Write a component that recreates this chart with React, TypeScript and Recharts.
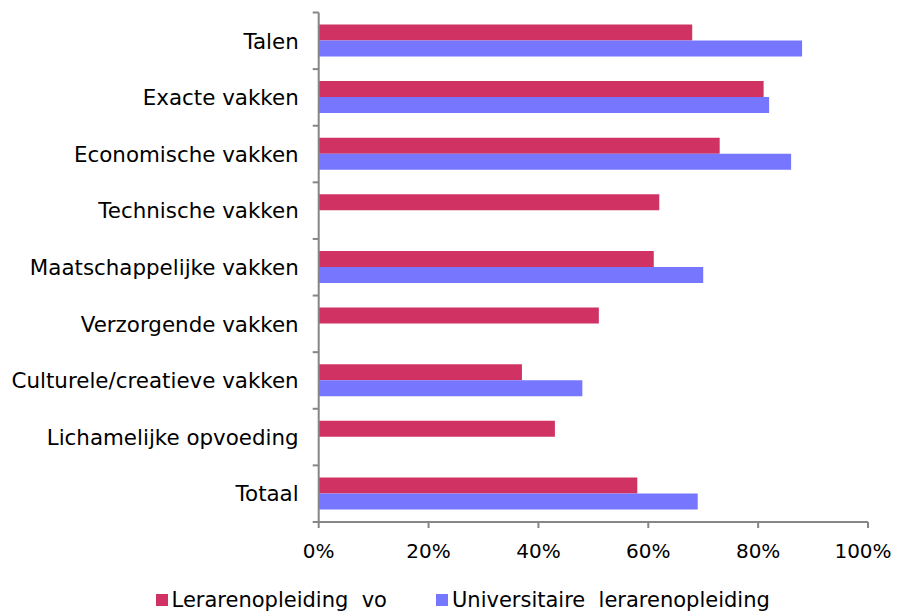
import { Bar, BarChart, Legend, XAxis, YAxis } from "recharts";

const categories = [
  "Talen",
  "Exacte vakken",
  "Economische vakken",
  "Technische vakken",
  "Maatschappelijke vakken",
  "Verzorgende vakken",
  "Culturele/creatieve vakken",
  "Lichamelijke opvoeding",
  "Totaal",
];
const lerarenopleidingVo = [68, 81, 73, 62, 61, 51, 37, 43, 58];
const universitaireLerarenopleiding = [88, 82, 86, null, 70, null, 48, null, 69];
const percentTicks = [0, 20, 40, 60, 80, 100];

const data = categories.map((name, i) => ({
  name,
  vo: lerarenopleidingVo[i],
  uni: universitaireLerarenopleiding[i],
}));

const FONT = '"DejaVu Sans", Verdana, sans-serif';
const AXIS_COLOR = "#868686";
const RED = "#d03264";
const BLUE = "#7676ff";
const TICK_SIZE = 6;
const TICK_MARGIN = 14;

function CategoryTick(props: any) {
  const { x, y, payload } = props;
  const half = payload?.offset ?? 28.3;
  const axisX = x + TICK_MARGIN + TICK_SIZE;
  const isLast = payload?.value === categories[categories.length - 1];
  return (
    <g>
      <line x1={axisX - TICK_SIZE} x2={axisX} y1={y - half} y2={y - half} stroke={AXIS_COLOR} strokeWidth={2} />
      {isLast && (
        <line x1={axisX - TICK_SIZE} x2={axisX} y1={y + half} y2={y + half} stroke={AXIS_COLOR} strokeWidth={2} />
      )}
      <text x={x} y={y} dy="0.36em" textAnchor="end" fill="#000" fontSize={21.4} fontFamily={FONT}>
        {payload.value}
      </text>
    </g>
  );
}

// the last label would run past the page edge, nudge it in a little
function PercentTick({ x, y, payload }: any) {
  const isLast = payload.value === percentTicks[percentTicks.length - 1];
  return (
    <text
      x={x}
      y={y}
      dy="0.71em"
      dx={isLast ? -5 : 0}
      textAnchor="middle"
      fill="#000"
      fontSize={20}
      fontFamily={FONT}
    >
      {`${payload.value}%`}
    </text>
  );
}

function LegendBody({ payload }: any) {
  return (
    <div
      style={{
        display: "flex",
        alignItems: "center",
        height: 24,
        paddingLeft: 147.6,
        fontFamily: FONT,
        fontSize: 21,
        color: "#000",
      }}
    >
      {(payload || []).map((item: any, i: number) => (
        <div key={item.value} style={{ display: "flex", alignItems: "center", marginRight: i === 0 ? 49 : 0 }}>
          <span style={{ width: 12, height: 12, background: item.color, marginRight: 4, display: "inline-block" }} />
          <span style={{ whiteSpace: "pre", lineHeight: "24px" }}>{item.value}</span>
        </div>
      ))}
    </div>
  );
}

export default function App() {
  return (
    <BarChart
      width={892}
      height={604}
      data={data}
      layout="vertical"
      margin={{ top: 4.5, right: 32, bottom: 16, left: 0 }}
      barSize={16}
      barGap={0}
    >
      <XAxis
        type="number"
        domain={[0, 100]}
        ticks={percentTicks}
        interval={0}
        axisLine={{ stroke: AXIS_COLOR, strokeWidth: 2 }}
        tickLine={{ stroke: AXIS_COLOR, strokeWidth: 2 }}
        tickSize={6}
        tickMargin={16}
        height={50}
        tick={<PercentTick />}
      />
      <YAxis
        type="category"
        dataKey="name"
        width={310.7}
        interval={0}
        axisLine={{ stroke: AXIS_COLOR, strokeWidth: 2 }}
        tickLine={false}
        tickSize={TICK_SIZE}
        tickMargin={TICK_MARGIN}
        tick={<CategoryTick />}
      />
      <Legend
        verticalAlign="bottom"
        content={<LegendBody />}
        wrapperStyle={{ bottom: 0, left: 0, width: 892 }}
      />
      <Bar dataKey="vo" name="Lerarenopleiding  vo" fill={RED} isAnimationActive={false} />
      <Bar dataKey="uni" name="Universitaire  lerarenopleiding" fill={BLUE} isAnimationActive={false} />
    </BarChart>
  );
}
